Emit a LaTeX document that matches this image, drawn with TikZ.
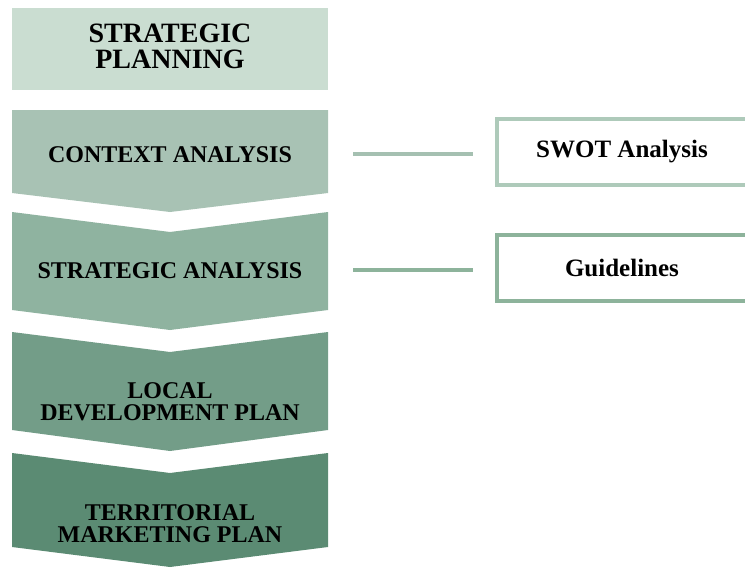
\documentclass[tikz,border=0pt]{standalone}
\usepackage{fontspec}
\setmainfont{Liberation Serif}
\usepackage{tikz}

\definecolor{verdeA}{HTML}{CADDD1}
\definecolor{verdeB}{HTML}{A8C2B4}
\definecolor{verdeC}{HTML}{8FB3A0}
\definecolor{verdeD}{HTML}{739D88}
\definecolor{verdeE}{HTML}{5B8B73}
\definecolor{bordeA}{HTML}{AECABA}
\definecolor{bordeB}{HTML}{8DB39B}

\tikzset{
  etiqueta/.style={align=center,text=black,font=\bfseries\fontsize{24}{22}\selectfont},
  caja/.style={draw,line width=4pt,fill=white,minimum width=250pt,minimum height=66pt,
    font=\bfseries\fontsize{25}{28}\selectfont},
  linea/.style={line width=4pt,shorten <=25pt,shorten >=22pt}
}

\begin{document}
\begin{tikzpicture}[x=1pt,y=-1pt]
		%Recortarlo
		\useasboundingbox (0,0) rectangle (745,573);
		\clip (0,0) rectangle (745,573);
		\fill[white] (0,0) rectangle (745,573);

		%Caja de arriba
		\fill[verdeA] (12,8) rectangle (328,90);
		\node[etiqueta,font=\bfseries\fontsize{28}{26}\selectfont] (plan) at (170,46) {STRATEGIC\\PLANNING};

		%Las flechas
		\fill[verdeB] (12,110) -- (328,110) -- (328,193) -- (170,212) -- (12,193) -- cycle;
		\node[etiqueta] (ctx) at (170,155) {CONTEXT ANALYSIS};

		\fill[verdeC] (12,212) -- (170,232) -- (328,212) -- (328,310) -- (170,330) -- (12,310) -- cycle;
		\node[etiqueta] (strat) at (170,271) {STRATEGIC ANALYSIS};

		\fill[verdeD] (12,332) -- (170,352) -- (328,332) -- (328,430) -- (170,451) -- (12,430) -- cycle;
		\node[etiqueta] (local) at (170,402) {LOCAL\\DEVELOPMENT PLAN};

		\fill[verdeE] (12,453) -- (170,473) -- (328,453) -- (328,547) -- (170,567) -- (12,547) -- cycle;
		\node[etiqueta] (terr) at (170,524) {TERRITORIAL\\MARKETING PLAN};

		%Cajas de la derecha
		\node[caja,draw=bordeA] (swot) at (622,152) {SWOT Analysis};
		\node[caja,draw=bordeB] (guide) at (622,268) {Guidelines};

		%Las lineas
		\coordinate (ctxR) at (328,154);
		\coordinate (stratR) at (328,270);
		\draw[linea,bordeA!95!black] (ctxR) -- (ctxR -| swot.west);
		\draw[linea,bordeB] (stratR) -- (stratR -| guide.west);

	\end{tikzpicture}
\end{document}
